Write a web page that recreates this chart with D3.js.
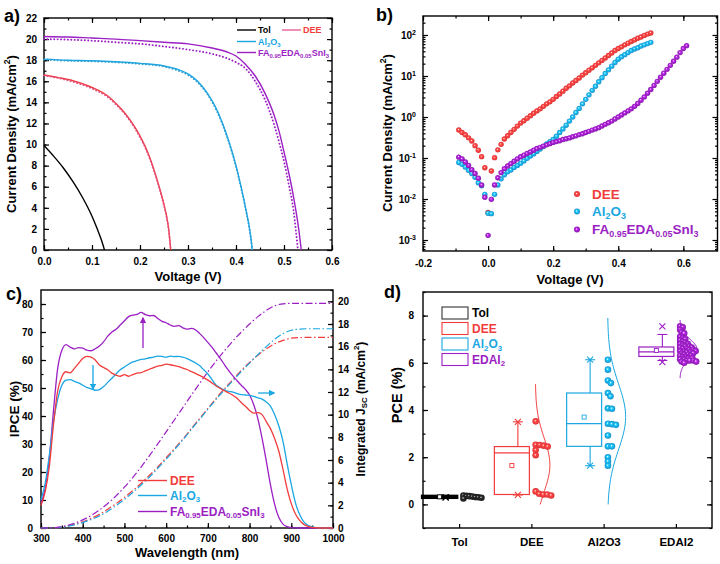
<!DOCTYPE html>
<html><head><meta charset="utf-8">
<script src="https://cdn.jsdelivr.net/npm/d3@7"></script>
<style>
body{margin:0;background:#fff;}
svg{display:block;}
</style></head><body>
<svg id="fig" width="720" height="564"></svg>
<script>
// ================= DATA =================
// Panel a: J-V curves
const jvTolV = [0,0.02,0.04,0.06,0.08,0.10,0.11,0.12,0.126];
const jvTolJ = [9.9,8.9,7.8,6.5,5.0,3.2,2.1,0.9,0];
const jvDeeV = [0,0.03,0.06,0.09,0.11,0.13,0.15,0.17,0.19,0.20,0.21,0.22,0.23,0.24,0.25,0.255,0.26,0.264];
const jvDeeJ = [16.6,16.35,16.05,15.6,15.2,14.7,13.9,12.9,11.6,10.8,9.9,8.8,7.5,6.0,4.3,3.3,1.9,0];
const jvDeeRevJ = [16.55,16.3,15.95,15.5,15.1,14.6,13.8,12.8,11.5,10.7,9.8,8.7,7.4,5.9,4.2,3.2,1.8,0];
const jvAlV = [0,0.05,0.1,0.15,0.2,0.25,0.28,0.3,0.32,0.34,0.36,0.38,0.39,0.4,0.41,0.42,0.43,0.434];
const jvAlJ = [18.1,18.0,17.95,17.85,17.7,17.45,17.1,16.7,16.0,14.9,13.3,11.0,9.6,8.0,6.1,4.0,1.5,0];
const jvAlRevJ = [18.05,17.95,17.9,17.8,17.65,17.4,17.0,16.6,15.9,14.8,13.2,10.9,9.5,7.9,6.0,3.9,1.4,0];
const jvFaV = [0,0.05,0.1,0.15,0.2,0.25,0.3,0.35,0.38,0.4,0.42,0.44,0.46,0.48,0.49,0.5,0.51,0.52,0.53,0.536];
const jvFaJ = [20.25,20.2,20.1,20.0,19.85,19.7,19.55,19.15,18.8,18.4,17.6,16.5,14.9,12.7,11.2,9.3,7.3,5.0,2.2,0];
const jvFaRevV = [0,0.05,0.1,0.15,0.2,0.25,0.3,0.35,0.38,0.4,0.42,0.44,0.46,0.48,0.49,0.5,0.51,0.52,0.529];
const jvFaRevJ = [20.0,19.95,19.85,19.7,19.55,19.3,19.0,18.6,18.2,17.8,17.2,16.0,14.3,11.8,10.2,8.4,6.2,3.7,0];
const aXTicks = [0,0.1,0.2,0.3,0.4,0.5,0.6];
const aYTicks = [0,2,4,6,8,10,12,14,16,18,20,22];

// Panel b: dark J-V (log), voltage sweep from -0.09 V in 0.01 V steps
const darkStartV = -0.09, darkStepV = 0.01;
const darkDee = [0.48,0.42,0.37,0.31,0.26,0.2,0.155,0.108,0.058,0.0047,0.048,0.102,0.158,0.215,
  0.29,0.35,0.42,0.5,0.6,0.71,0.81,0.93,1.07,1.23,1.41,1.58,1.82,2.09,2.34,2.69,3.16,3.63,4.27,5.01,
  5.75,6.76,7.76,8.91,10.5,12.0,13.8,15.8,18.2,20.9,24.0,27.5,31.6,36.3,41.7,46.8,51.3,57.5,63.1,69.2,
  75.9,83.2,89.1,97.7,105,112];
const darkAl = [0.078,0.07,0.06,0.05,0.042,0.034,0.025,0.021,0.013,0.0045,0.0044,0.013,0.022,0.031,0.039,0.046,
  0.051,0.059,0.066,0.074,0.085,0.098,0.112,0.126,0.145,0.166,0.19,0.219,0.251,0.282,
  0.339,0.417,0.513,0.631,0.794,1.0,1.29,1.62,2.09,2.69,3.47,4.47,5.62,7.24,9.12,11.5,14.1,17.4,21.4,25.7,
  29.5,33.1,37.2,41.7,45.7,49.0,53.7,57.5,61.7,66.1];
const darkFa = [0.105,0.095,0.08,0.066,0.052,0.042,0.032,0.022,0.011,0.0013,0.0098,0.022,0.033,0.044,
  0.055,0.064,0.073,0.083,0.095,0.107,0.117,0.129,0.141,0.155,0.17,0.182,0.195,0.209,0.224,
  0.24,0.251,0.263,0.282,0.295,0.309,0.331,0.347,0.372,0.389,0.417,0.447,0.479,0.513,0.55,0.603,0.661,0.724,0.794,0.891,
  1.0,1.12,1.26,1.41,1.58,1.82,2.14,2.57,3.09,3.8,4.68,5.89,7.41,9.33,11.7,14.5,18.2,22.9,28.8,37.2,46.8,55];
const bXTicks = [-0.2,0.0,0.2,0.4,0.6];
const bYTicks = [1e-3,1e-2,1e-1,1,10,100];

// Panel c: IPCE (300-1000 nm every 10 nm) and integrated Jsc (every 20 nm)
const ipceStart = 300, ipceStep = 10, jscStep = 20;
const ipceDee = [8,13,22,37,49,54,55.8,55.4,57,58.8,60.5,61.3,61,60,58.2,57.3,56.5,55.3,54.6,54.2,
  54.8,54.2,54.8,55.3,55.5,56.1,56.7,57.3,57.8,58.1,58.5,58.3,58,57.6,57.1,56.6,55.9,55.2,54.5,53.7,
  52.8,51.8,50.7,49.8,49,48.2,47.4,46.3,44.8,43.5,42,41,41.2,40.5,38,35.5,32,27.5,21,14,
  8.7,5,2.7,1.3,0.6,0.25,0.1,0,0,0,0];
const ipceAl = [10,16,26,38,46,51,52.8,53,52.4,51.8,51,50.2,49.7,49.2,49.4,50.5,52,53.5,55,56.5,
  57.5,58.5,59.3,59.8,60.2,60.4,60.8,61,61.4,61.3,61,61.4,61.2,61.3,61,60.5,59.8,59,58,56.5,
  55,53,51,50,49.2,48.8,48.5,48,47.6,47.5,47.4,47,46.5,46,45,43.5,40.5,36.5,31,23,
  15.5,9,4.8,2.2,1,0.4,0.15,0.05,0,0,0];
const ipceFa = [9,14,25,42,57,63.5,65.5,64.6,64,64.4,64.2,63.5,63.3,64,65,66.5,68.5,70,71,72.5,
  74,75.5,76,76.3,77,76.2,75.8,75.9,74.8,73.8,73.3,72.5,72,72.3,71.5,71,71.3,70.8,69.5,68,
  66.3,64.5,62.5,60.5,58.3,56.2,54.3,52.6,51,49.5,47.5,44,39,32,24,15.5,8.5,3.8,1.4,0.5,
  0.15,0.05,0,0,0,0,0,0,0,0,0];
const jscDee = [0,0.01,0.05,0.15,0.32,0.55,0.85,1.2,1.65,2.15,2.7,3.3,3.95,4.65,5.4,6.2,7.0,7.85,8.75,9.65,
  10.55,11.45,12.3,13.1,13.9,14.6,15.25,15.8,16.25,16.55,16.75,16.8,16.82,16.82,16.82,16.82];
const jscAl = [0,0.01,0.04,0.13,0.28,0.48,0.74,1.06,1.48,1.98,2.53,3.13,3.79,4.5,5.27,6.07,6.9,7.78,8.68,9.58,
  10.48,11.35,12.2,13.0,13.8,14.55,15.3,16.0,16.65,17.15,17.45,17.55,17.58,17.58,17.58,17.58];
const jscFa = [0,0.01,0.06,0.2,0.42,0.72,1.1,1.58,2.16,2.83,3.6,4.45,5.38,6.38,7.42,8.48,9.55,10.62,11.7,12.75,
  13.78,14.75,15.65,16.5,17.28,18.0,18.65,19.2,19.6,19.78,19.82,19.82,19.82,19.82,19.82,19.82];
const cXTicks = [300,400,500,600,700,800,900,1000];
const cYTicks = [0,10,20,30,40,50,60,70,80];
const cY2Ticks = [0,2,4,6,8,10,12,14,16,18,20];

// Panel d: PCE statistics
const pceCats = ["Tol","DEE","Al2O3","EDAI2"];
const pceTol = [0.25,0.3,0.38,0.33,0.28,0.35,0.31,0.36];
const pceDee = [3.52,2.52,2.3,2.08,2.45,2.49,2.53,0.55,0.42,0.42,0.45,0.38];
const pceAl = [6.13,5.71,5.25,5.14,4.72,4.58,4.05,4.07,3.37,3.4,3.42,2.92,2.46,2.46,2.0,1.82,1.64];
const pceEda = [7.55,7.5,7.4,7.3,7.25,7.1,7.05,7.0,6.95,6.9,6.85,6.8,6.8,6.75,6.7,6.7,6.65,6.65,6.6,6.6,
  6.55,6.55,6.5,6.5,6.5,6.45,6.45,6.4,6.4,6.35,6.35,6.3,6.3,6.25,6.25,6.2,6.2,6.15,6.15,6.1,6.1,6.1,6.05,6.05,6.0];
const boxQ1   = [0.28,0.42,2.46,6.27];
const boxMed  = [0.31,2.18,3.42,6.46];
const boxQ3   = [0.36,2.45,4.72,6.67];
const boxMean = [0.32,1.65,3.70,6.52];
const boxWLo  = [0.26,0.40,1.64,6.10];
const boxWHi  = [0.38,3.50,6.13,7.20];
const boxMin  = [0.30,0.40,1.64,6.03];
const boxMax  = [0.30,3.50,6.13,7.54];
const dYTicks = [0,2,4,6,8];
const legD = ["Tol","DEE","Al2O3","EDAI2"];

// ================= STYLE =================
const FONT = '"Liberation Sans", Arial, sans-serif';
const cTol = "#000000", cDee = "#f23c3c", cAl = "#1ba7e2", cFa = "#9b1fc3";
const fmtHy = f => (d => f(d).replace("\u2212","-"));

const svg = d3.select("#fig");
svg.append("rect").attr("width",720).attr("height",564).attr("fill","#fff");
const defs = svg.append("defs");

function styleAxis(sel, fs){
  sel.select(".domain").remove();
  sel.selectAll(".tick line").attr("stroke","#000").attr("stroke-width",1.2);
  sel.selectAll("text").attr("font-family",FONT).attr("font-weight","bold").attr("font-size",fs).attr("fill","#000");
  return sel;
}
function axis(g, gen, tx, ty, fs){
  return styleAxis(g.append("g").attr("transform",`translate(${tx},${ty})`).call(gen), fs||10);
}
function frame(g, x0, y0, x1, y1){
  g.append("rect").attr("x",x0).attr("y",y0).attr("width",x1-x0).attr("height",y1-y0)
    .attr("fill","none").attr("stroke","#000").attr("stroke-width",1.4);
}
function rich(g, x, y, parts, fs, color, anchor, rotate){
  const t = g.append("text").attr("x",x).attr("y",y).attr("font-size",fs).attr("fill",color)
    .attr("font-family",FONT).attr("font-weight","bold").attr("text-anchor",anchor||"start");
  if(rotate) t.attr("transform",`rotate(${rotate},${x},${y})`);
  let cur = 0;
  parts.forEach(p => {
    const [s,k] = Array.isArray(p) ? p : [p,""];
    const target = k==="sub" ? fs*0.22 : (k==="sup" ? -fs*0.38 : 0);
    const ts = t.append("tspan").text(s);
    if(target-cur !== 0) ts.attr("dy", target-cur);
    if(k) ts.attr("font-size", fs*0.66);
    cur = target;
  });
  return t;
}
function ball(id, color){
  const g = defs.append("radialGradient").attr("id",id).attr("cx","50%").attr("cy","50%").attr("r","55%")
    .attr("fx","42%").attr("fy","40%");
  g.append("stop").attr("offset","0%").attr("stop-color","#ffffff");
  g.append("stop").attr("offset","30%").attr("stop-color",d3.color(color).brighter(0.6));
  g.append("stop").attr("offset","65%").attr("stop-color",color);
  g.append("stop").attr("offset","100%").attr("stop-color",d3.color(color).darker(0.5));
}
ball("bDee",cDee); ball("bAl",cAl); ball("bFa",cFa); ball("bTol","#222");
function arrowMarker(id, color){
  defs.append("marker").attr("id",id).attr("viewBox","0 0 10 10").attr("refX",8).attr("refY",5)
    .attr("markerWidth",5).attr("markerHeight",5).attr("orient","auto")
    .append("path").attr("d","M0,0 L10,5 L0,10 Z").attr("fill",color);
}
arrowMarker("arFa",cFa); arrowMarker("arAl",cAl);

// panel letters
[["a)",4,22],["b)",376,21],["c)",6,300],["d)",384,298]].forEach(([t,x,y]) =>
  svg.append("text").attr("x",x).attr("y",y).attr("font-family",FONT).attr("font-weight","bold")
    .attr("font-size",18).text(t));

// ================= PANEL A =================
{
  const g = svg.append("g");
  const x = d3.scaleLinear().domain([0,0.6]).range([44,332]);
  const y = d3.scaleLinear().domain([0,22]).range([250,18]);
  const minX = d3.range(0,0.6001,0.05), minY = d3.range(0,22.01,1);
  axis(g, d3.axisBottom(x).tickValues(minX).tickSize(-2.5).tickFormat(""), 0, 250);
  axis(g, d3.axisBottom(x).tickValues(aXTicks).tickSize(-5).tickPadding(8).tickFormat(d3.format(".1f")), 0, 250);
  axis(g, d3.axisTop(x).tickValues(minX).tickSize(-2.5).tickFormat(""), 0, 18);
  axis(g, d3.axisTop(x).tickValues(aXTicks).tickSize(-5).tickFormat(""), 0, 18);
  axis(g, d3.axisLeft(y).tickValues(minY).tickSize(-2.5).tickFormat(""), 44, 0);
  axis(g, d3.axisLeft(y).tickValues(aYTicks).tickSize(-5).tickPadding(7), 44, 0);
  axis(g, d3.axisRight(y).tickValues(minY).tickSize(-2.5).tickFormat(""), 332, 0);
  axis(g, d3.axisRight(y).tickValues(aYTicks).tickSize(-5).tickFormat(""), 332, 0);
  frame(g, 44, 18, 332, 250);
  const line = d3.line().x(d=>x(d[0])).y(d=>y(d[1])).curve(d3.curveMonotoneX);
  const z = (a,b) => a.map((v,i)=>[v,b[i]]);
  const draw = (pts, col, dotted) => {
    const p = g.append("path").attr("d",line(pts)).attr("fill","none").attr("stroke",col);
    if(dotted) p.attr("stroke-width",1.9).attr("stroke-dasharray","0.1,3.3").attr("stroke-linecap","round");
    else p.attr("stroke-width",1.4);
  };
  draw(z(jvTolV,jvTolJ), cTol);
  draw(z(jvDeeV,jvDeeJ), cDee);
  draw(z(jvDeeV,jvDeeRevJ), "#e0508a", true);
  draw(z(jvAlV,jvAlJ), cAl);
  draw(z(jvAlV,jvAlRevJ), "#2b9fd6", true);
  draw(z(jvFaV,jvFaJ), cFa);
  draw(z(jvFaRevV,jvFaRevJ), cFa, true);
  // legend
  const leg = [[237,30,cTol,["Tol"],cTol],[282,30,"#e8609a",["DEE"],cDee],
               [237,41.5,cAl,["Al",["2","sub"],"O",["3","sub"]],cAl],
               [237,52.5,cFa,["FA",["0.95","sub"],"EDA",["0.05","sub"],"SnI",["3","sub"]],cFa]];
  leg.forEach(([lx,ly,lc,parts,tc]) => {
    g.append("line").attr("x1",lx).attr("x2",lx+19).attr("y1",ly).attr("y2",ly).attr("stroke",lc).attr("stroke-width",1.4);
    rich(g, lx+21, ly+3.2, parts, 9, tc);
  });
  rich(g, 13, 134, ["Current Density (mA/cm",["2","sup"],")"], 13, "#000", "middle", -90).attr("dominant-baseline","middle");
  rich(g, 188, 281, ["Voltage (V)"], 13, "#000", "middle");
}

// ================= PANEL B =================
{
  const g = svg.append("g");
  const x = d3.scaleLinear().domain([-0.2,0.705]).range([423,717.5]);
  const y = d3.scaleLog().domain([Math.pow(10,-3.268),Math.pow(10,2.463)]).range([251,16]);
  const minX = d3.range(-0.2,0.7001,0.1);
  const minY = [];
  for(let k=-4;k<=2;k++) for(let m=2;m<=9;m++){ const v=m*Math.pow(10,k); if(v>y.domain()[0] && v<y.domain()[1]) minY.push(v); }
  axis(g, d3.axisBottom(x).tickValues(minX).tickSize(-2.5).tickFormat(""), 0, 251);
  axis(g, d3.axisBottom(x).tickValues(bXTicks).tickSize(-5).tickPadding(9).tickFormat(fmtHy(d3.format(".1f"))), 0, 251);
  axis(g, d3.axisTop(x).tickValues(minX).tickSize(-2.5).tickFormat(""), 0, 16);
  axis(g, d3.axisTop(x).tickValues(bXTicks).tickSize(-5).tickFormat(""), 0, 16);
  axis(g, d3.axisLeft(y).tickValues(minY).tickSize(-2.5).tickFormat(""), 423, 0);
  const la = axis(g, d3.axisLeft(y).tickValues(bYTicks).tickSize(-5).tickPadding(7).tickFormat(""), 423, 0);
  la.selectAll(".tick").each(function(d){
    const t = d3.select(this).select("text").attr("dy","0.35em").attr("font-size",10);
    t.append("tspan").text("10");
    t.append("tspan").text(String(Math.round(Math.log10(d))).replace("\u2212","-")).attr("font-size",7).attr("dy",-4);
  });
  axis(g, d3.axisRight(y).tickValues(minY).tickSize(-2.5).tickFormat(""), 717.5, 0);
  axis(g, d3.axisRight(y).tickValues(bYTicks).tickSize(-5).tickFormat(""), 717.5, 0);
  frame(g, 423, 16, 717.5, 251);
  const r = 2.7;
  const series = [[darkDee,"bDee"],[darkAl,"bAl"],[darkFa,"bFa"]];
  series.forEach(([arr,id]) => {
    g.append("g").selectAll("circle").data(arr).join("circle")
      .attr("cx",(d,i)=>x(darkStartV + i*darkStepV)).attr("cy",d=>y(d)).attr("r",r)
      .attr("fill",`url(#${id})`);
  });
  const leg = [[194,"bDee",["DEE"],cDee],[211.5,"bAl",["Al",["2","sub"],"O",["3","sub"]],cAl],
               [229.5,"bFa",["FA",["0.95","sub"],"EDA",["0.05","sub"],"SnI",["3","sub"]],cFa]];
  leg.forEach(([ly,id,parts,c]) => {
    g.append("circle").attr("cx",577).attr("cy",ly).attr("r",3).attr("fill",`url(#${id})`);
    rich(g, 592, ly+4.7, parts, 13.5, c);
  });
  rich(g, 389, 133, ["Current Density (mA/cm",["2","sup"],")"], 13, "#000", "middle", -90).attr("dominant-baseline","middle");
  rich(g, 570, 284, ["Voltage (V)"], 13, "#000", "middle");
}

// ================= PANEL C =================
{
  const g = svg.append("g");
  const x = d3.scaleLinear().domain([300,1000]).range([41,333]);
  const y = d3.scaleLinear().domain([0,85]).range([528,290]);
  const y2 = d3.scaleLinear().domain([0,21]).range([528,290]);
  axis(g, d3.axisBottom(x).tickValues(d3.range(300,1001,50)).tickSize(-2.5).tickFormat(""), 0, 528);
  axis(g, d3.axisBottom(x).tickValues(cXTicks).tickSize(-5).tickPadding(7).tickFormat(d3.format("d")), 0, 528);
  axis(g, d3.axisLeft(y).tickValues(d3.range(0,85,5)).tickSize(-2.5).tickFormat(""), 41, 0);
  axis(g, d3.axisLeft(y).tickValues(cYTicks).tickSize(-5).tickPadding(8), 41, 0);
  axis(g, d3.axisRight(y2).tickValues(d3.range(0,21.01,1)).tickSize(-2.5).tickFormat(""), 333, 0);
  axis(g, d3.axisRight(y2).tickValues(cY2Ticks).tickSize(-5).tickPadding(5), 333, 0);
  frame(g, 41, 290, 333, 528);
  const lineL = d3.line().x(d=>x(d[0])).y(d=>y(d[1])).curve(d3.curveMonotoneX);
  const lineR = d3.line().x(d=>x(d[0])).y(d=>y2(d[1])).curve(d3.curveMonotoneX);
  const toPts = (arr, step) => arr.map((v,i)=>[ipceStart + i*step, v]);
  [[jscDee,cDee],[jscAl,cAl],[jscFa,cFa]].forEach(([arr,c]) =>
    g.append("path").attr("d",lineR(toPts(arr,jscStep))).attr("fill","none").attr("stroke",c)
      .attr("stroke-width",1.2).attr("stroke-dasharray","7,2.5,1.5,2.5"));
  [[ipceFa,cFa],[ipceAl,cAl],[ipceDee,cDee]].forEach(([arr,c]) =>
    g.append("path").attr("d",lineL(toPts(arr,ipceStep))).attr("fill","none").attr("stroke",c).attr("stroke-width",1.3));
  // arrows
  g.append("line").attr("x1",143).attr("y1",348).attr("x2",143).attr("y2",318).attr("stroke",cFa).attr("stroke-width",1.3).attr("marker-end","url(#arFa)");
  g.append("line").attr("x1",93).attr("y1",365).attr("x2",93).attr("y2",389).attr("stroke",cAl).attr("stroke-width",1.3).attr("marker-end","url(#arAl)");
  g.append("line").attr("x1",258).attr("y1",393).attr("x2",274).attr("y2",393).attr("stroke",cAl).attr("stroke-width",1.3).attr("marker-end","url(#arAl)");
  // legend
  const leg = [[480.5,cDee,["DEE"]],[495.5,cAl,["Al",["2","sub"],"O",["3","sub"]]],
               [511.5,cFa,["FA",["0.95","sub"],"EDA",["0.05","sub"],"SnI",["3","sub"]]]];
  leg.forEach(([ly,c,parts]) => {
    g.append("line").attr("x1",138).attr("x2",167).attr("y1",ly).attr("y2",ly).attr("stroke",c).attr("stroke-width",1.4);
    rich(g, 170, ly+4.2, parts, 12, c);
  });
  rich(g, 15, 409, ["IPCE (%)"], 13.5, "#000", "middle", -90).attr("dominant-baseline","middle");
  rich(g, 187, 557, ["Wavelength (nm)"], 13, "#000", "middle");
  rich(g, 362, 409, ["Integrated J",["SC","sub"]," (mA/cm",["2","sup"],")"], 12, "#000", "middle", -90).attr("dominant-baseline","middle");
}

// ================= PANEL D =================
{
  const g = svg.append("g");
  const x = d3.scalePoint().domain(pceCats).range([423,712]).padding(0.5);
  const y = d3.scaleLinear().domain([-1,9]).range([528,292]);
  axis(g, d3.axisLeft(y).tickValues(d3.range(-1,9.01,1)).tickSize(-2.5).tickFormat(""), 423, 0);
  axis(g, d3.axisLeft(y).tickValues(dYTicks).tickSize(-5).tickPadding(9), 423, 0);
  axis(g, d3.axisRight(y).tickValues(d3.range(-1,9.01,1)).tickSize(-2.5).tickFormat(""), 712, 0);
  axis(g, d3.axisRight(y).tickValues(dYTicks).tickSize(-5).tickFormat(""), 712, 0);
  axis(g, d3.axisBottom(x).tickSize(-4).tickPadding(10), 0, 528, 11.5);
  frame(g, 423, 292, 712, 528);
  const cols = [cTol,cDee,cAl,cFa];
  const balls = ["bTol","bDee","bAl","bFa"];
  const dots = [pceTol,pceDee,pceAl,pceEda];
  const curveW = [0,14.5,18,17];
  const minDs = [3.0,3.9,3.9,2.6];
  pceCats.forEach((cat,i) => {
    const cx = x(cat), c = cols[i];
    const bx0 = cx-37, bx1 = cx-2, bw = (bx0+bx1)/2 + 6;
    // whiskers
    g.append("line").attr("x1",bw).attr("x2",bw).attr("y1",y(boxQ3[i])).attr("y2",y(boxWHi[i])).attr("stroke",c).attr("stroke-width",1.1);
    g.append("line").attr("x1",bw).attr("x2",bw).attr("y1",y(boxQ1[i])).attr("y2",y(boxWLo[i])).attr("stroke",c).attr("stroke-width",1.1);
    [boxWHi[i],boxWLo[i]].forEach(v => g.append("line").attr("x1",bw-5).attr("x2",bw+5).attr("y1",y(v)).attr("y2",y(v)).attr("stroke",c).attr("stroke-width",1.1));
    [boxMin[i],boxMax[i]].forEach(v => {
      g.append("path").attr("d",`M${bw-3},${y(v)-3}L${bw+3},${y(v)+3}M${bw-3},${y(v)+3}L${bw+3},${y(v)-3}`).attr("stroke",c).attr("stroke-width",1.1);
    });
    // box
    g.append("rect").attr("x",bx0).attr("y",y(boxQ3[i])).attr("width",bx1-bx0).attr("height",Math.max(1,y(boxQ1[i])-y(boxQ3[i])))
      .attr("fill","none").attr("stroke",c).attr("stroke-width",i===0?2.5:1.2);
    g.append("line").attr("x1",bx0).attr("x2",bx1).attr("y1",y(boxMed[i])).attr("y2",y(boxMed[i])).attr("stroke",c).attr("stroke-width",1.2);
    g.append("rect").attr("x",(bx0+bx1)/2-2).attr("y",y(boxMean[i])-2).attr("width",4).attr("height",4).attr("fill","#fff").attr("stroke",c).attr("stroke-width",0.9);
    // normal curve
    const vals = dots[i], m = d3.mean(vals), sd = d3.deviation(vals);
    if(curveW[i] > 0){
      const lo = Math.max(0, m-3*sd), hi = m+3*sd;
      const pts = d3.range(0,61).map(k => { const v = lo + (hi-lo)*k/60; return [cx+4+curveW[i]*Math.exp(-((v-m)**2)/(2*sd*sd)), y(v)]; });
      g.append("path").attr("d",d3.line()(pts)).attr("fill","none").attr("stroke",c).attr("stroke-width",1);
    }
    // beeswarm dots
    const r = 3.3, minD = minDs[i], placed = [];
    vals.slice().sort((a,b)=>b-a).forEach(v => {
      const py = y(v);
      let off = 0;
      for(; off < 60; off += 0.5){
        const px = cx + 1 + r + off;
        if(placed.every(p => (p[0]-px)**2 + (p[1]-py)**2 >= minD*minD)) break;
      }
      placed.push([cx+1+r+off, py]);
    });
    g.append("g").selectAll("circle").data(placed).join("circle")
      .attr("cx",d=>d[0]).attr("cy",d=>d[1]).attr("r",r).attr("fill",`url(#${balls[i]})`);
  });
  // legend
  const legParts = [["Tol"],["DEE"],["Al",["2","sub"],"O",["3","sub"]],["EDAI",["2","sub"]]];
  legD.forEach((l,i) => {
    const ly = 313 + i*15.5;
    g.append("rect").attr("x",442).attr("y",ly-6).attr("width",26).attr("height",12).attr("fill","none")
      .attr("stroke",i===0?"#333":cols[i]).attr("stroke-width",1.1);
    rich(g, 472, ly+4.3, legParts[i], 12, i===0?"#000":cols[i]);
  });
  rich(g, 398, 395, ["PCE (%)"], 14.5, "#000", "middle", -90).attr("dominant-baseline","middle");
}
</script>
</body></html>
